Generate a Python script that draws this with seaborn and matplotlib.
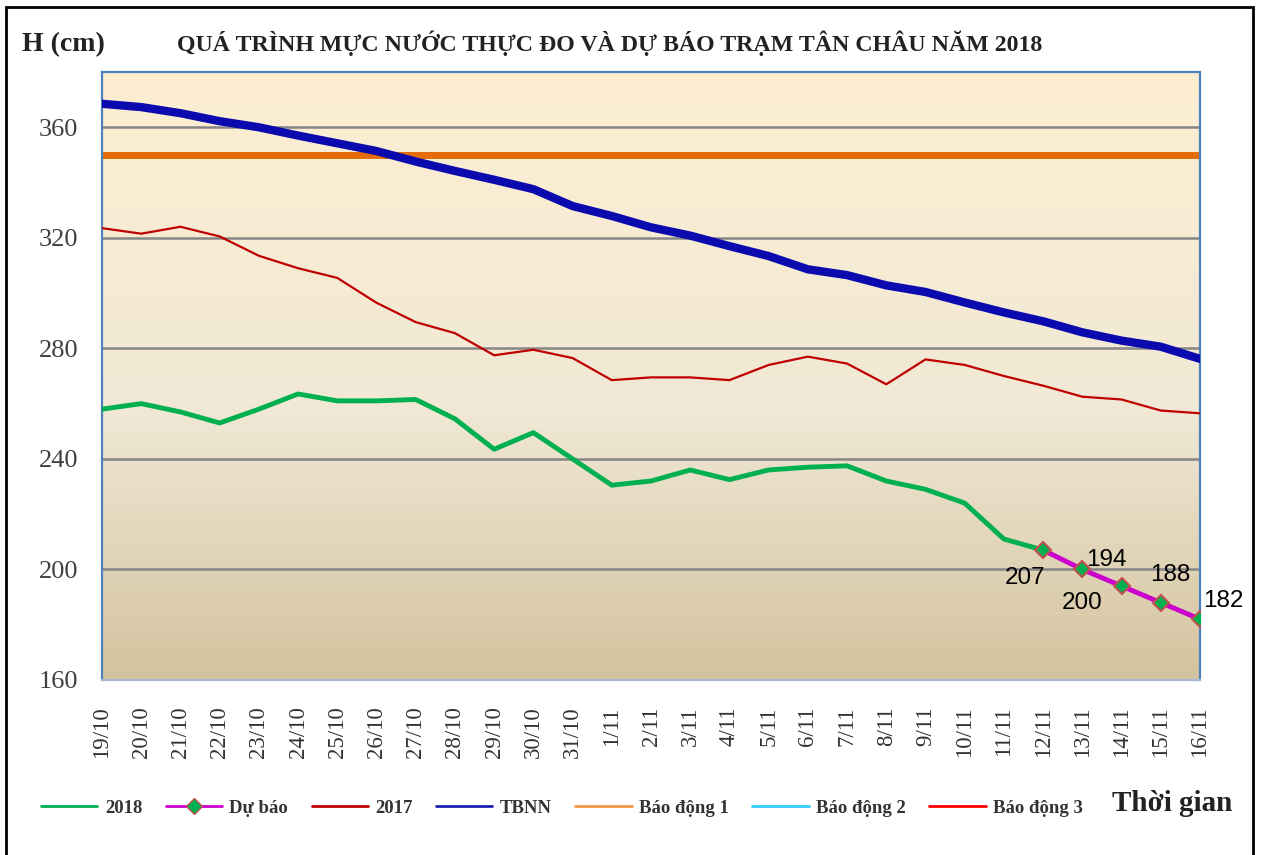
import numpy as np
import pandas as pd
import matplotlib
matplotlib.use("Agg")
import matplotlib.pyplot as plt
from matplotlib.colors import LinearSegmentedColormap
from matplotlib.lines import Line2D
from matplotlib.patches import Rectangle
import seaborn as sns

sns.set_theme(style="white")
plt.rcParams["font.family"] = ["Liberation Serif", "DejaVu Serif"]

# ── Data ─────────────────────────────────────────────────────
dates = ["19/10", "20/10", "21/10", "22/10", "23/10", "24/10", "25/10", "26/10",
         "27/10", "28/10", "29/10", "30/10", "31/10", "1/11", "2/11", "3/11",
         "4/11", "5/11", "6/11", "7/11", "8/11", "9/11", "10/11", "11/11",
         "12/11", "13/11", "14/11", "15/11", "16/11"]

h_2018 = [258, 260, 257, 253, 258, 263.5, 261, 261, 261.5, 254.5, 243.5, 249.5,
          240, 230.5, 232, 236, 232.5, 236, 237, 237.5, 232, 229, 224, 211, 207]

forecast_dates = ["12/11", "13/11", "14/11", "15/11", "16/11"]
forecast_vals = [207, 200, 194, 188, 182]

h_2017 = [323.5, 321.5, 324, 320.5, 313.5, 309, 305.5, 296.5, 289.5, 285.5, 277.5,
          279.5, 276.5, 268.5, 269.5, 269.5, 268.5, 274, 277, 274.5, 267, 276,
          274, 270, 266.5, 262.5, 261.5, 257.5, 256.5]

h_tbnn = [368.5, 367.3, 365.1, 362.2, 360, 357, 354.2, 351.4, 347.6, 344.2, 341,
          337.6, 331.5, 327.9, 323.8, 320.8, 317, 313.4, 308.6, 306.5, 302.8,
          300.4, 296.6, 293, 289.8, 285.8, 282.8, 280.6, 276.2]

alarm_levels = [350, 400, 450]   # Báo động 1, 2, 3
alarm_names = ["Báo động 1", "Báo động 2", "Báo động 3"]

pos = np.arange(len(dates))
df_2018 = pd.DataFrame({"x": pos[:len(h_2018)], "h": h_2018})
df_fc = pd.DataFrame({"x": [dates.index(d) for d in forecast_dates], "h": forecast_vals})
df_2017 = pd.DataFrame({"x": pos, "h": h_2017})
df_tbnn = pd.DataFrame({"x": pos, "h": h_tbnn})

# ── Style ────────────────────────────────────────────────────
C_2018 = "#00B050"
C_FC = "#CC00CC"
C_2017 = "#C00000"
C_TBNN = "#0A0AAF"
C_ALARM = ["#E46C0A", "#33CCFF", "#FF0000"]

fig = plt.figure(figsize=(12.64, 8.55), dpi=100)
ax = fig.add_axes([102 / 1264, 1 - 680 / 855, 1098 / 1264, 608 / 855])

# gradient background of the plot area
bg = LinearSegmentedColormap.from_list(
    "bg", [(0, "#D3C39F"), (0.45, "#F1E9D6"), (1, "#FDEED1")])
ax.imshow(np.linspace(0, 1, 256).reshape(-1, 1), cmap=bg, origin="lower",
          extent=[0, len(dates) - 1, 160, 380], aspect="auto", zorder=0)

for y in [200, 240, 280, 320, 360]:
    ax.axhline(y, color="#868686", lw=1.8, zorder=1)

for lvl, c in zip(alarm_levels, C_ALARM):
    ax.axhline(lvl, color=c, lw=5, zorder=2)

sns.lineplot(data=df_tbnn, x="x", y="h", ax=ax, color=C_TBNN, lw=6,
             legend=False, zorder=3, solid_joinstyle="round")
sns.lineplot(data=df_2017, x="x", y="h", ax=ax, color=C_2017, lw=1.6,
             legend=False, zorder=3)
sns.lineplot(data=df_2018, x="x", y="h", ax=ax, color=C_2018, lw=3.5,
             legend=False, zorder=4, solid_joinstyle="round")
sns.lineplot(data=df_fc, x="x", y="h", ax=ax, color=C_FC, lw=3.5,
             marker="D", markersize=8.5, markerfacecolor=C_2018,
             markeredgecolor="#C0504D", markeredgewidth=1.5,
             legend=False, zorder=5)

# value labels for forecast (offsets in points)
label_offsets = [(-13, -20), (0, -24), (-11, 19), (7, 20), (17, 13)]
for d, v, off in zip(forecast_dates, forecast_vals, label_offsets):
    ax.annotate(f"{v}", (dates.index(d), v), xytext=off, textcoords="offset points",
                ha="center", va="center", fontsize=17.5, color="black",
                family=["Liberation Sans", "DejaVu Sans"], zorder=6,
                annotation_clip=False)

ax.set_xlim(0, len(dates) - 1)
ax.set_ylim(160, 380)
ax.set_yticks([160, 200, 240, 280, 320, 360])
ax.set_xticks(pos)
ax.set_xticklabels(dates, rotation=90)
ax.tick_params(axis="x", length=0, pad=19, labelsize=16.5, labelcolor="#333333")
ax.tick_params(axis="y", length=0, pad=17, labelsize=19, labelcolor="#404040")
ax.set_xlabel("")
ax.set_ylabel("")
for s in ["left", "right", "top"]:
    ax.spines[s].set_color("#4F81BD")
    ax.spines[s].set_linewidth(1.6)
ax.spines["bottom"].set_color("#A9B8CF")
ax.spines["bottom"].set_linewidth(1.6)

# texts
fig.text(610 / 1264, 1 - 43 / 855,
         "QUÁ TRÌNH MỰC NƯỚC THỰC ĐO VÀ DỰ BÁO TRẠM TÂN CHÂU NĂM 2018",
         ha="center", va="center", fontsize=17.2, fontweight="bold", color="#222222")
fig.text(22 / 1264, 1 - 45 / 855, "H (cm)", ha="left", va="center",
         fontsize=20, fontweight="bold", color="#222222")
fig.text(1232 / 1264, 1 - 803 / 855, "Thời gian", ha="right", va="center",
         fontsize=21, fontweight="bold", color="#222222")

# legend
handles = [
    Line2D([], [], color=C_2018, lw=2),
    Line2D([], [], color=C_FC, lw=2, marker="D", markersize=8,
           markerfacecolor=C_2018, markeredgecolor="#C0504D"),
    Line2D([], [], color=C_2017, lw=2),
    Line2D([], [], color="#2020B0", lw=2),
] + [Line2D([], [], color=c, lw=2) for c in ["#F79646", "#33CCFF", "#FF0000"]]
labels = ["2018", "Dự báo", "2017", "TBNN"] + alarm_names
fig.legend(handles, labels, ncol=7, loc="center", bbox_to_anchor=(562 / 1264, 1 - 808 / 855),
           frameon=False, prop={"weight": "bold", "size": 13.5}, handlelength=3.0,
           handletextpad=0.4, columnspacing=1.25, labelcolor="#333333")

# outer border
fig.patches.append(Rectangle((6 / 1264, -0.02), 1247 / 1264, 1.02 - 7 / 855,
                             transform=fig.transFigure, fill=False,
                             edgecolor="black", lw=2))

fig.savefig("out.png", dpi=100)
